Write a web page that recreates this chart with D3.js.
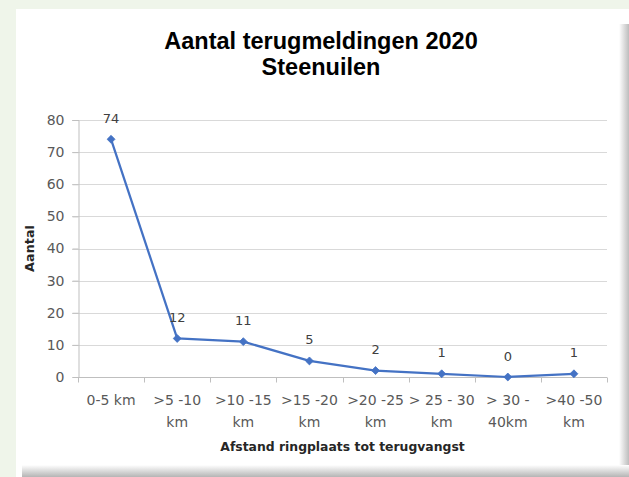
<!DOCTYPE html>
<html>
<head>
<meta charset="utf-8">
<script src="https://cdn.jsdelivr.net/npm/d3@7/dist/d3.min.js"></script>
<style>
  html, body { margin: 0; padding: 0; background: #eff5ea; }
  svg { display: block; }
</style>
</head>
<body>
<svg id="chart" width="629" height="477"></svg>
<script>
// ---- data ----
const titleLines = ["Aantal terugmeldingen 2020", "Steenuilen"];
const categories = ["0-5 km", ">5 -10 km", ">10 -15 km", ">15 -20 km", ">20 -25 km", "> 25 - 30 km", "> 30 - 40km", ">40 -50 km"];
const categoryLines = [["0-5 km"], [">5 -10", "km"], [">10 -15", "km"], [">15 -20", "km"], [">20 -25", "km"], ["> 25 - 30", "km"], ["> 30 -", "40km"], [">40 -50", "km"]];
const values = [74, 12, 11, 5, 2, 1, 0, 1];
const yTicks = [0, 10, 20, 30, 40, 50, 60, 70, 80];
const xAxisTitle = "Afstand ringplaats tot terugvangst";
const yAxisTitle = "Aantal";

const svg = d3.select("#chart");
const W = 629, H = 477;

// panel + shadows
const defs = svg.append("defs");
const gr = defs.append("linearGradient").attr("id", "shR").attr("x1", 0).attr("x2", 1).attr("y1", 0).attr("y2", 0);
gr.append("stop").attr("offset", "0%").attr("stop-color", "#ffffff");
gr.append("stop").attr("offset", "100%").attr("stop-color", "#bdbdbd");
const gb = defs.append("linearGradient").attr("id", "shB").attr("x1", 0).attr("x2", 0).attr("y1", 0).attr("y2", 1);
gb.append("stop").attr("offset", "0%").attr("stop-color", "#ffffff");
gb.append("stop").attr("offset", "100%").attr("stop-color", "#b5b5b5");

svg.append("rect").attr("x", 16).attr("y", 9).attr("width", W - 16).attr("height", H - 9).attr("fill", "#ffffff");
svg.append("rect").attr("x", 619).attr("y", 24).attr("width", 10).attr("height", H - 24).attr("fill", "url(#shR)");
svg.append("rect").attr("x", 22).attr("y", 465).attr("width", W - 22).attr("height", 12).attr("fill", "url(#shB)");

// scales
const x = d3.scaleBand().domain(categories).range([78, 607]).padding(0);
const y = d3.scaleLinear().domain([0, 80]).range([377, 120]);

// title
svg.append("g").selectAll("text").data(titleLines).join("text")
  .attr("x", 321).attr("y", (d, i) => 49 + i * 26)
  .attr("text-anchor", "middle")
  .attr("font-family", "'Liberation Sans', Arial, sans-serif")
  .attr("font-weight", "bold").attr("font-size", 23.5).attr("fill", "#000")
  .text(d => d);

// gridlines
svg.append("g").selectAll("line").data(yTicks.filter(d => d > 0)).join("line")
  .attr("x1", 72).attr("x2", 607)
  .attr("y1", d => Math.round(y(d)) + 0.5).attr("y2", d => Math.round(y(d)) + 0.5)
  .attr("stroke", "#d9d9d9").attr("stroke-width", 1.2);

// y axis
const yAxis = svg.append("g").attr("transform", "translate(78.5,0)")
  .call(d3.axisLeft(y).tickValues(yTicks).tickSize(6).tickPadding(8));
yAxis.select(".domain").attr("stroke", "#bfbfbf");
yAxis.selectAll(".tick line").attr("stroke", "#bfbfbf");
yAxis.selectAll(".tick text").attr("font-family", "'DejaVu Sans', sans-serif").attr("font-size", 14).attr("fill", "#595959");

// x axis
const xAxis = svg.append("g").attr("transform", "translate(0,377.5)")
  .call(d3.axisBottom(x).tickSize(0).tickFormat(""));
xAxis.select(".domain").attr("stroke", "#bfbfbf").attr("d", "M78,0H607");
xAxis.selectAll(".tick").remove();
const bounds = categories.map(c => x(c)).concat([x(categories[categories.length - 1]) + x.bandwidth()]);
xAxis.selectAll("line.bt").data(bounds).join("line").attr("class", "bt")
  .attr("x1", d => Math.round(d) + 0.5).attr("x2", d => Math.round(d) + 0.5)
  .attr("y1", 0).attr("y2", 5).attr("stroke", "#bfbfbf");

// x labels
const xl = svg.append("g");
categories.forEach((c, i) => {
  const t = xl.append("text")
    .attr("x", x(c) + x.bandwidth() / 2).attr("y", 405)
    .attr("text-anchor", "middle")
    .attr("font-family", "'DejaVu Sans', sans-serif").attr("font-size", 14).attr("fill", "#595959");
  categoryLines[i].forEach((ln, j) => {
    t.append("tspan").attr("x", x(c) + x.bandwidth() / 2).attr("y", 405 + j * 21.5).text(ln);
  });
});

// axis titles
svg.append("text").attr("x", 342.5).attr("y", 450.5).attr("text-anchor", "middle")
  .attr("font-family", "'DejaVu Sans', sans-serif").attr("font-weight", "bold")
  .attr("font-size", 12.4).attr("fill", "#262626").text(xAxisTitle);
svg.append("text").attr("transform", "translate(33.5,248.5) rotate(-90)").attr("text-anchor", "middle")
  .attr("font-family", "'DejaVu Sans', sans-serif").attr("font-weight", "bold")
  .attr("font-size", 12.8).attr("fill", "#262626").text(yAxisTitle);

// line
const cx = i => x(categories[i]) + x.bandwidth() / 2;
svg.append("path").datum(values)
  .attr("fill", "none").attr("stroke", "#4472c4").attr("stroke-width", 2.25).attr("stroke-linejoin", "round")
  .attr("d", d3.line().x((d, i) => cx(i)).y(d => y(d)));

// markers
svg.append("g").selectAll("path").data(values).join("path")
  .attr("transform", (d, i) => `translate(${cx(i)},${y(d)})`)
  .attr("d", d3.symbol().type(d3.symbolDiamond2).size(40))
  .attr("fill", "#4472c4").attr("stroke", "#4472c4").attr("stroke-width", 0.8);

// data labels
svg.append("g").selectAll("text").data(values).join("text")
  .attr("x", (d, i) => cx(i)).attr("y", d => y(d) - 16.5)
  .attr("text-anchor", "middle")
  .attr("font-family", "'DejaVu Sans', sans-serif").attr("font-size", 13).attr("fill", "#404040")
  .text(d => d);
</script>
</body>
</html>
